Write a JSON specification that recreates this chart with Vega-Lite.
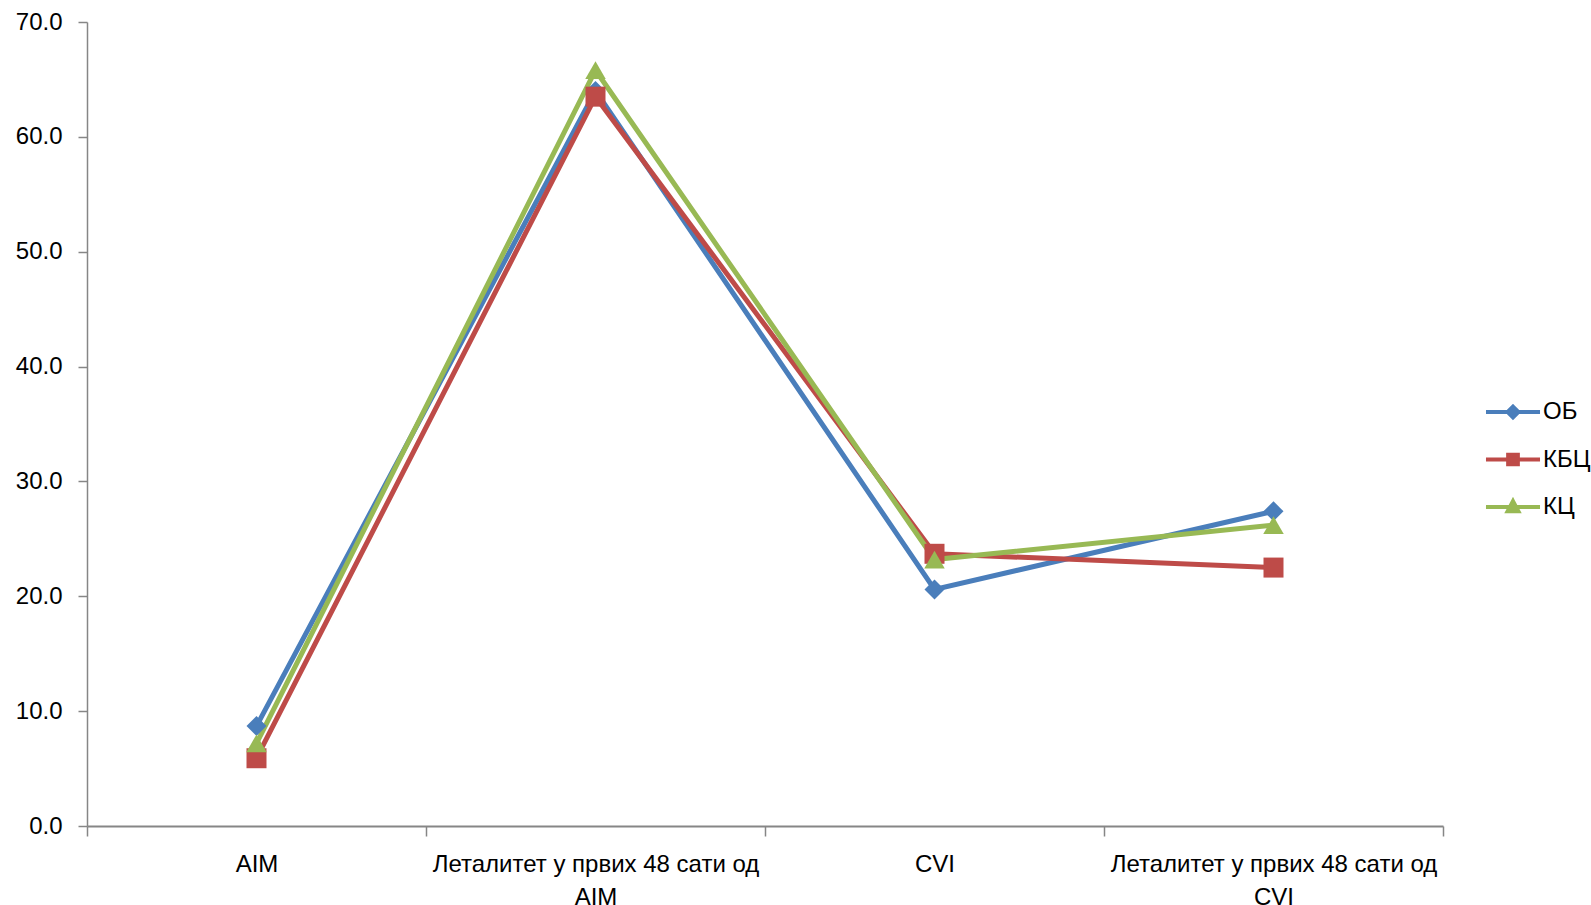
{
  "$schema": "https://vega.github.io/schema/vega-lite/v6.json",
  "autosize": "none",
  "width": 1356,
  "height": 804,
  "padding": {"left": 87, "top": 22, "right": 148, "bottom": 79},
  "background": "white",
  "config": {
    "view": {"stroke": null},
    "font": "Liberation Sans",
    "axis": {"labelFont": "Liberation Sans", "labelFontSize": 24, "labelColor": "#000000", "domainColor": "#868686", "tickColor": "#868686", "grid": false, "title": null}
  },
  "data": {
    "values": [
      {"cat": "AIM", "series": "ОБ", "value": 8.7},
      {"cat": "Леталитет у првих 48 сати од AIM", "series": "ОБ", "value": 64.0},
      {"cat": "CVI", "series": "ОБ", "value": 20.6},
      {"cat": "Леталитет у првих 48 сати од CVI", "series": "ОБ", "value": 27.4},
      {"cat": "AIM", "series": "КБЦ", "value": 5.9},
      {"cat": "Леталитет у првих 48 сати од AIM", "series": "КБЦ", "value": 63.5},
      {"cat": "CVI", "series": "КБЦ", "value": 23.7},
      {"cat": "Леталитет у првих 48 сати од CVI", "series": "КБЦ", "value": 22.5},
      {"cat": "AIM", "series": "КЦ", "value": 7.2},
      {"cat": "Леталитет у првих 48 сати од AIM", "series": "КЦ", "value": 65.8},
      {"cat": "CVI", "series": "КЦ", "value": 23.2},
      {"cat": "Леталитет у првих 48 сати од CVI", "series": "КЦ", "value": 26.2}
    ]
  },
  "encoding": {
    "x": {
      "field": "cat", "type": "nominal", "sort": null,
      "scale": {"type": "band", "paddingInner": 0, "paddingOuter": 0},
      "axis": {"labelAngle": 0, "tickBand": "extent", "tickSize": 10, "domainWidth": 2, "tickWidth": 1.5, "labelPadding": 16, "labelLimit": 0, "labelLineHeight": 33, "labelBaseline": "top",
        "labelExpr": "split(replace(datum.label, ' од ', ' од|'), '|')"}
    },
    "y": {
      "field": "value", "type": "quantitative",
      "scale": {"domain": [0, 70], "nice": false, "zero": true},
      "axis": {"values": [0, 10, 20, 30, 40, 50, 60, 70], "format": ".1f", "tickSize": 9, "labelPadding": 16, "domainWidth": 1.5, "tickWidth": 1.5}
    },
    "color": {
      "field": "series", "type": "nominal", "sort": null,
      "scale": {"domain": ["ОБ", "КБЦ", "КЦ"], "range": ["#4A7EBB", "#BE4B48", "#98B954"]},
      "legend": {
        "orient": "none", "legendX": 1413, "legendY": 377, "title": null, "padding": 0,
        "labelFont": "Liberation Sans", "labelFontSize": 24, "labelColor": "#000000",
        "symbolSize": 467, "symbolStrokeWidth": 4, "rowPadding": 20.5, "labelOffset": 17,
        "encode": {"symbols": {"update": {
          "shape": {"signal": "datum.value === 'ОБ' ? 'M-2.5,0H2.5M0,-0.5L0.5,0L0,0.5L-0.5,0Z' : datum.value === 'КБЦ' ? 'M-2.5,0H2.5M-0.45,-0.45H0.45V0.45H-0.45Z' : 'M-2.5,0H2.5M0,-0.55L0.5,0.4H-0.5Z'"},
          "fill": {"signal": "scale('color', datum.value)"},
          "stroke": {"signal": "scale('color', datum.value)"},
          "strokeWidth": {"value": 4},
          "opacity": {"value": 1}
        }}}
      }
    }
  },
  "layer": [
    {"mark": {"type": "line", "strokeWidth": 5}},
    {
      "transform": [{"filter": "datum.series === 'ОБ'"}],
      "mark": {"type": "point", "filled": true, "opacity": 1, "size": 400, "shape": "diamond"}
    },
    {
      "transform": [{"filter": "datum.series === 'КБЦ'"}],
      "mark": {"type": "point", "filled": true, "opacity": 1, "size": 400, "shape": "square"}
    },
    {
      "transform": [{"filter": "datum.series === 'КЦ'"}],
      "mark": {"type": "point", "filled": true, "opacity": 1, "size": 420, "shape": "triangle-up"}
    }
  ]
}
